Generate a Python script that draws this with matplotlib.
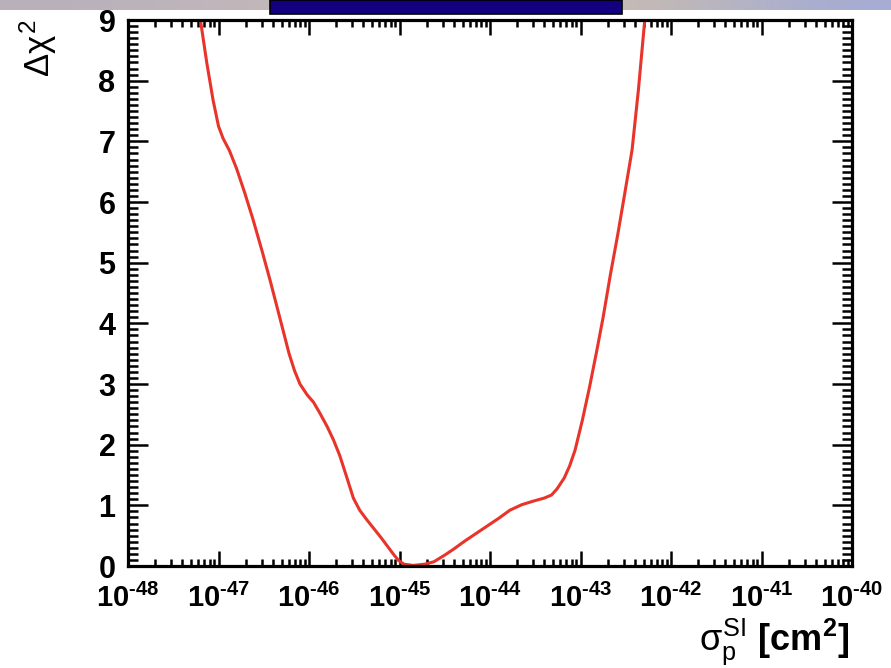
import numpy as np
import matplotlib
matplotlib.use('Agg')
from matplotlib import pyplot as plt
from matplotlib.patches import Rectangle
import matplotlib.ticker as mticker

plt.rcParams['font.family'] = ['Liberation Sans', 'DejaVu Sans']
plt.rcParams['mathtext.fontset'] = 'custom'
plt.rcParams['mathtext.rm'] = 'Liberation Sans'
plt.rcParams['mathtext.it'] = 'Liberation Sans'
plt.rcParams['mathtext.bf'] = 'Liberation Sans:bold'

# delta chi2 profile versus log10 of the SI WIMP-proton cross section
log_sigma = [-47.20, -47.13, -47.06, -47.00, -46.95, -46.88, -46.80, -46.71,
             -46.62, -46.52, -46.43, -46.31, -46.22, -46.16, -46.10, -46.02,
             -45.95, -45.88, -45.80, -45.73, -45.66, -45.58, -45.51, -45.44,
             -45.36, -45.28, -45.20, -45.13, -45.07, -45.01, -44.95, -44.85,
             -44.72, -44.62, -44.50, -44.40, -44.28, -44.15, -44.03, -43.90,
             -43.78, -43.65, -43.52, -43.40, -43.32, -43.26, -43.18, -43.12,
             -43.06, -42.98, -42.90, -42.82, -42.75, -42.67, -42.59, -42.51,
             -42.43, -42.36, -42.29]
dchi2 = [9.00, 8.30, 7.68, 7.25, 7.05, 6.85, 6.55, 6.15,
         5.72, 5.20, 4.71, 4.02, 3.50, 3.22, 3.00, 2.82,
         2.70, 2.52, 2.30, 2.08, 1.82, 1.45, 1.12, 0.92,
         0.76, 0.61, 0.46, 0.32, 0.20, 0.09, 0.03, 0.01,
         0.03, 0.07, 0.18, 0.28, 0.41, 0.54, 0.66, 0.79,
         0.92, 1.01, 1.07, 1.12, 1.17, 1.27, 1.45, 1.65,
         1.91, 2.40, 2.95, 3.55, 4.10, 4.80, 5.45, 6.15,
         6.86, 7.85, 9.00]
decades = list(range(-48, -39))
y_ticks = list(range(0, 10))

sigma = 10.0 ** np.array(log_sigma)

fig = plt.figure(figsize=(8.91, 6.68), dpi=100)

# strip of the slide background along the top edge
grad = np.array([[185, 176, 186], [192, 182, 188], [198, 188, 182],
                 [202, 190, 178], [196, 186, 180], [165, 172, 212]]) / 255.
bg = fig.add_axes([0, 1 - 10 / 668, 1, 10 / 668])
bg.imshow(grad[np.newaxis, :, :], aspect='auto', interpolation='bicubic',
          extent=[0, 1, 0, 1])
bg.set_axis_off()
fig.patches.append(Rectangle((270 / 891, 1 - 14 / 668), 352 / 891, 14 / 668,
                             transform=fig.transFigure, facecolor='#13007f',
                             edgecolor='black', linewidth=1.2, zorder=5))

ax = fig.add_axes([128 / 891, 102 / 668, 724 / 891, 546 / 668])
ax.plot(sigma, dchi2, '-', color='#e8342a', linewidth=2.2, clip_on=True)
ax.set_xscale('log')
ax.set_xlim(1e-48, 1e-40)
ax.set_ylim(0, 9)

# decade labels with a short hyphen in the exponent
ax.xaxis.set_major_locator(mticker.FixedLocator([10.0 ** d for d in decades]))
ax.xaxis.set_major_formatter(mticker.FixedFormatter(
    ['$\\mathbf{10^{\u2010%d}}$' % -d for d in decades]))
ax.xaxis.set_minor_locator(mticker.LogLocator(base=10, subs=np.arange(2, 10),
                                              numticks=100))
ax.xaxis.set_minor_formatter(mticker.NullFormatter())
ax.yaxis.set_major_locator(mticker.FixedLocator(y_ticks))
ax.yaxis.set_minor_locator(mticker.MultipleLocator(0.1))

for s in ax.spines.values():
    s.set_linewidth(2.3)
ax.tick_params(which='both', direction='in', top=True, right=True,
               width=1.8, color='black')
ax.tick_params(axis='x', which='major', length=10.5, pad=13, labelsize=21)
ax.tick_params(axis='x', which='minor', length=5)
ax.tick_params(axis='y', which='major', length=14.5, pad=9, labelsize=22)
ax.tick_params(axis='y', which='minor', length=7.2)
for lab in ax.get_yticklabels():
    lab.set_fontweight('bold')

fig.text(38 / 891, 1 - 20 / 668, r'$\Delta\chi^2$', rotation=90,
         ha='center', va='top', fontsize=25)
fig.text(850 / 891, 1 - 642 / 668,
         r'$\sigma_{\mathrm{p}}^{\mathrm{SI}}$ $\mathbf{[cm^2]}$',
         ha='right', va='center', fontsize=26)

plt.savefig('out.png', dpi=100)
plt.close(fig)
